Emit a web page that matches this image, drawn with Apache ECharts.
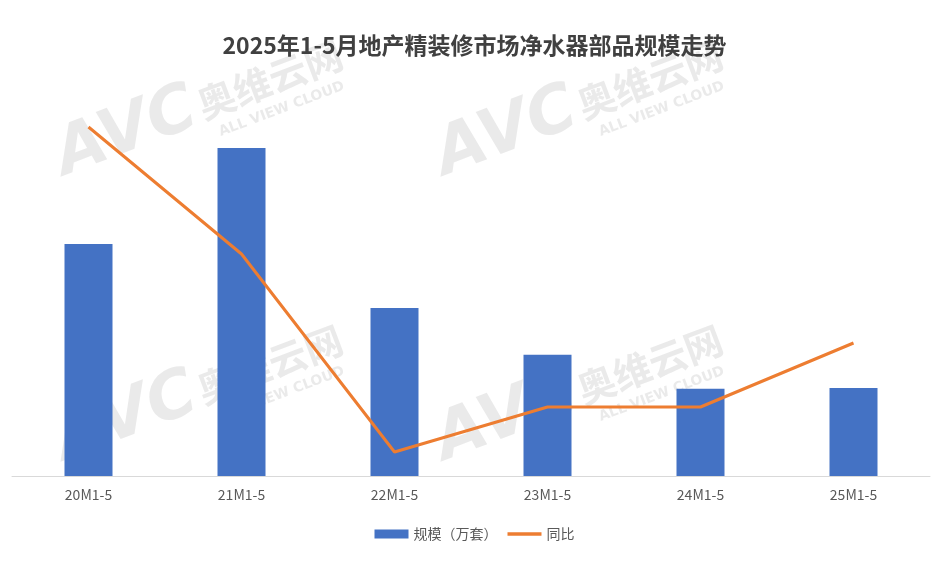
<!DOCTYPE html>
<html><head><meta charset="utf-8">
<script src="https://cdn.jsdelivr.net/npm/echarts@6/dist/echarts.min.js"></script>
<style>html,body{margin:0;padding:0;background:#fff}#c{width:949px;height:574px}</style>
</head><body><div id="c"></div>
<script>
const titleText = '2025年1-5月地产精装修市场净水器部品规模走势';
const categories = ['20M1-5','21M1-5','22M1-5','23M1-5','24M1-5','25M1-5'];
const scaleValues = [58, 82, 42, 30.3, 21.8, 22];
const yoyValues = [74.5, 11, -88, -65.5, -65.5, -33.5];
const seriesNames = ['规模（万套）', '同比'];

const chart = echarts.init(document.getElementById('c'));
function wm(x, y) {
  const fill = 'rgba(170,170,170,0.25)';
  return {
    type: 'group', x: x, y: y, rotation: 0.36, z: 100, silent: true,
    children: [
      {type: 'text', x: 0, y: 0, style: {text: 'AVC', fill: fill, font: 'italic bold 66px "DejaVu Sans"', textVerticalAlign: 'bottom'}},
      {type: 'text', x: 150, y: -14, style: {text: '奥维云网', fill: fill, font: 'bold 38px "Noto Sans CJK SC"', textVerticalAlign: 'bottom'}},
      {type: 'text', x: 160, y: 6, style: {text: 'ALL VIEW CLOUD', fill: fill, font: 'bold 14px "DejaVu Sans"', textVerticalAlign: 'bottom'}}
    ]
  };
}
chart.setOption({
  animation: false,
  title: {text: titleText, left: 'center', top: 29, textStyle: {fontFamily: 'Noto Sans CJK SC', fontSize: 23, fontWeight: 'bold', color: '#404040'}},
  grid: {left: 12, right: 19, top: 76, bottom: 98, containLabel: false},
  legend: {bottom: 28, left: 'center', itemGap: 10, itemWidth: 34, itemHeight: 9,
    textStyle: {fontFamily: 'Noto Sans CJK SC', fontSize: 14, color: '#595959'},
    data: [{name: seriesNames[0], icon: 'rect'}, {name: seriesNames[1], icon: 'path://M0,0 h40 v4 h-40 z'}]},
  xAxis: {type: 'category', data: categories, axisTick: {show: false}, axisLine: {lineStyle: {color: '#d9d9d9'}},
    axisLabel: {color: '#595959', fontSize: 14, margin: 12, fontFamily: 'Noto Sans CJK SC'}},
  yAxis: [
    {type: 'value', min: 0, max: 100, show: false, splitLine: {show: false}},
    {type: 'value', min: -100, max: 100, show: false, splitLine: {show: false}}
  ],
  series: [
    {name: seriesNames[0], type: 'bar', data: scaleValues, barWidth: 48, itemStyle: {color: '#4472C4'}},
    {name: seriesNames[1], type: 'line', yAxisIndex: 1, data: yoyValues, showSymbol: false, symbol: 'none',
      lineStyle: {color: '#ED7D31', width: 3}, itemStyle: {color: '#ED7D31'}}
  ],
  graphic: [wm(70, 190), wm(450, 190), wm(70, 475), wm(450, 475)]
});
</script></body></html>
